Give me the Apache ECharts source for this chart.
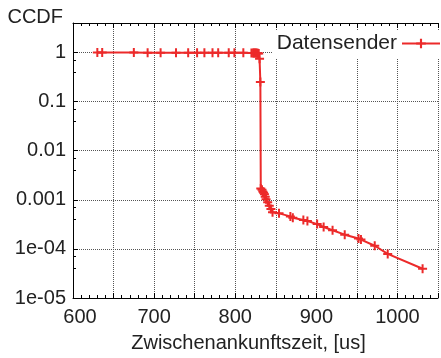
<!DOCTYPE html>
<html>
<head>
<meta charset="utf-8">
<script src="https://cdn.jsdelivr.net/npm/echarts@6/dist/echarts.min.js"></script>
<style>
  html, body { margin: 0; padding: 0; background: #fff; }
  #chart { width: 441px; height: 358px; }
</style>
</head>
<body>
<div id="chart"></div>
<script>
// inter-arrival time [us] and CCDF
var times = [630, 636, 675, 692, 708, 727, 742, 753, 762, 772, 779, 792, 799, 810,
  820, 822, 823, 824, 825, 826, 827, 828, 829, 830, 831,
  831.5, 833, 834, 835, 836, 837, 838, 840, 842, 844, 846,
  854, 868, 871, 884, 889, 901, 909, 920, 935, 952, 955, 972, 988, 1031]
var ccdf = [1, 0.998, 0.997, 0.996, 0.995, 0.994, 0.993, 0.992, 0.991, 0.99, 0.989, 0.988, 0.987, 0.986,
  0.985, 0.983, 0.981, 0.979, 0.977, 0.975, 0.972, 0.968, 0.96, 0.75, 0.25,
  0.0017, 0.0016, 0.00147, 0.0014, 0.0013, 0.00115, 0.00103, 0.00089, 0.00076, 0.00065, 0.00056,
  0.00053, 0.00046, 0.00043, 0.00039, 0.00037, 0.00032, 0.00028, 0.00024, 0.000195, 0.000163, 0.000155, 0.000116, 0.000079, 0.0000395]
var yTickLabels = ['1e-05', '1e-04', '0.001', '0.01', '0.1', '1'] // exponent -5 .. 0
var seriesName = 'Datensender'

var red = '#ec2a2a'
var font = 'Liberation Sans, Helvetica, Arial, sans-serif'
var plus = 'path://M-1,-4.5 h2 v3.5 h3.5 v2 h-3.5 v3.5 h-2 v-3.5 h-3.5 v-2 h3.5 z'

var chart = echarts.init(document.getElementById('chart'))
chart.setOption({
  animation: false,
  backgroundColor: '#fff',
  grid: { left: 73, right: -7, top: 23, bottom: 55 },
  legend: {
    data: [seriesName],
    right: 0,
    top: 30,
    align: 'right',
    padding: [3, 0, 4, 4],
    backgroundColor: '#fff',
    itemWidth: 38,
    itemHeight: 12,
    textStyle: { fontFamily: font, fontSize: 21, color: '#222' }
  },
  xAxis: [
    {
      type: 'value',
      min: 600,
      max: 1050,
      interval: 50,
      name: 'Zwischenankunftszeit, [us]',
      nameLocation: 'middle',
      nameGap: 35,
      nameTextStyle: { fontFamily: font, fontSize: 20, color: '#222', padding: [0, 14, 0, 0] },
      axisLine: { lineStyle: { color: '#000', width: 1 } },
      axisTick: { inside: true, length: 5, lineStyle: { color: '#000' } },
      minorTick: { show: true, splitNumber: 5, length: 3, lineStyle: { color: '#000' } },
      axisLabel: {
        fontFamily: font,
        fontSize: 20,
        color: '#222',
        margin: 9,
        formatter: function(v) {
          if (v % 100 !== 0 || v > 1000) return ''
          return v === 600 ? '{first|600}' : String(v)
        },
        rich: { first: { fontFamily: font, fontSize: 20, color: '#222', padding: [0, 0, 0, 14] } }
      },
      splitLine: { show: true, lineStyle: { color: '#555', type: 'dotted', width: 1 } }
    },
    {
      type: 'value',
      position: 'top',
      min: 600,
      max: 1050,
      interval: 50,
      axisLine: { lineStyle: { color: '#000', width: 1 } },
      axisTick: { inside: true, length: 5, lineStyle: { color: '#000' } },
      minorTick: { show: true, splitNumber: 5, length: 3, lineStyle: { color: '#000' } },
      axisLabel: { show: false },
      splitLine: { show: false }
    }
  ],
  yAxis: {
    type: 'log',
    logBase: 10,
    min: 1e-5,
    max: 4,
    name: 'CCDF',
    nameLocation: 'end',
    nameGap: 6,
    nameTextStyle: { fontFamily: font, fontSize: 20, color: '#222', align: 'right', verticalAlign: 'middle', padding: [0, 10, 0, 0] },
    axisLine: { show: true, lineStyle: { color: '#000', width: 1 } },
    axisTick: { inside: true, length: 5, lineStyle: { color: '#000' } },
    minorTick: { show: true, splitNumber: 3, length: 3, lineStyle: { color: '#000' } },
    axisLabel: {
      fontFamily: font,
      fontSize: 20,
      color: '#222',
      margin: 7,
      formatter: function(v) {
        var e = Math.log10(v)
        var r = Math.round(e)
        if (Math.abs(e - r) > 1e-6 || r < -5 || r > 0) return ''
        return yTickLabels[r + 5]
      }
    },
    splitLine: { show: true, lineStyle: { color: '#555', type: 'dotted', width: 1 } }
  },
  series: [
    {
      name: seriesName,
      type: 'line',
      data: times.map(function(t, i) { return [t, ccdf[i]] }),
      symbol: plus,
      symbolSize: 9,
      showAllSymbol: true,
      lineStyle: { color: red, width: 2 },
      itemStyle: { color: red }
    }
  ]
})
</script>
</body>
</html>
